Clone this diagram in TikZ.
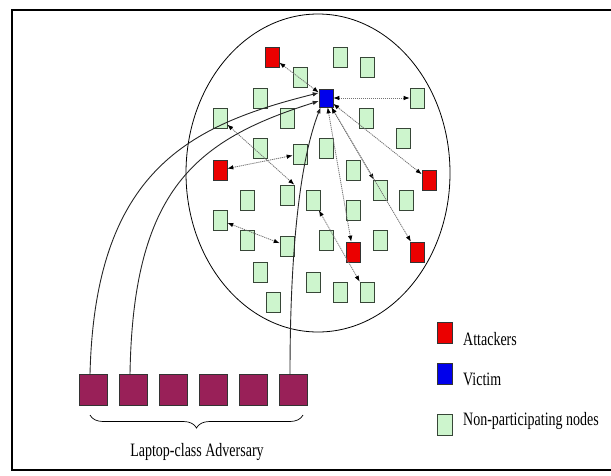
\documentclass[tikz,border=0pt]{standalone}
\usepackage{fontspec}
\setmainfont{Liberation Serif}
\usepackage{graphicx}
\usetikzlibrary{positioning,arrows.meta,decorations.pathreplacing}

\definecolor{plainGreen}{RGB}{205,245,205}
\definecolor{plainEdge}{RGB}{55,70,55}
\definecolor{attackRed}{RGB}{235,0,0}
\definecolor{victimBlue}{RGB}{0,0,235}
\definecolor{laptopPurple}{RGB}{153,32,88}
\newcommand{\tallText}[1]{\scalebox{1}[1.35]{#1}}

\begin{document}
\begin{tikzpicture}[x=1pt,y=-1pt,
  plainNode/.style={draw=plainEdge,fill=plainGreen,minimum width=14pt,
    minimum height=20pt,inner sep=0pt,line width=0.6pt},
  attacker/.style={plainNode,draw=black!80,fill=attackRed},
  victimBox/.style={plainNode,draw=black!80,fill=victimBlue,minimum height=18pt},
  laptop/.style={draw=black!80,fill=laptopPurple,minimum width=28pt,
    minimum height=31pt,inner sep=0pt,line width=0.6pt},
  probe/.style={gray!90!black,dash pattern=on 1.2pt off 0.8pt,line width=0.8pt,
    {Latex[color=black,length=6pt,width=4.5pt]}-{Latex[color=black,length=6pt,width=4.5pt]}},
  link/.style={black!85,line width=0.9pt,-{Latex[length=6pt,width=4.5pt]}},
  legendText/.style={font=\fontsize{14}{16}\selectfont,inner sep=0pt}]
  \useasboundingbox (0,0) rectangle (611,475);
  % frame, open on the right
  \draw[line width=1.6pt] (611,10) -- (12,10) -- (12,470) -- (611,470);
  % the network
  \draw[line width=0.8pt] (318,173) ellipse [x radius=132, y radius=159];
  \node[victimBox] (victim) at (326,98) {};
  \node[attacker] (attackerA) at (272,57) {};
  \node[attacker] (attackerB) at (220,170) {};
  \node[attacker] (attackerC) at (429,180) {};
  \node[attacker] (attackerD) at (353,252) {};
  \node[attacker] (attackerE) at (417,252) {};
  \node[plainNode] (plain1) at (340,57) {};
  \node[plainNode] (plain2) at (367,67) {};
  \node[plainNode] (plain3) at (300,77) {};
  \node[plainNode] (plain4) at (260,98) {};
  \node[plainNode] (plain5) at (417,98) {};
  \node[plainNode] (plain6) at (220,118) {};
  \node[plainNode] (plain7) at (287,118) {};
  \node[plainNode] (plain8) at (366,118) {};
  \node[plainNode] (plain9) at (403,138) {};
  \node[plainNode] (plain10) at (260,148) {};
  \node[plainNode] (plain11) at (326,148) {};
  \node[plainNode] (plain12) at (300,154) {};
  \node[plainNode] (plain13) at (353,170) {};
  \node[plainNode] (plain14) at (380,190) {};
  \node[plainNode] (plain15) at (247,200) {};
  \node[plainNode] (plain16) at (287,195) {};
  \node[plainNode] (plain17) at (313,200) {};
  \node[plainNode] (plain18) at (406,200) {};
  \node[plainNode] (plain19) at (353,210) {};
  \node[plainNode] (plain20) at (220,220) {};
  \node[plainNode] (plain21) at (247,240) {};
  \node[plainNode] (plain22) at (287,246) {};
  \node[plainNode] (plain23) at (326,240) {};
  \node[plainNode] (plain24) at (380,240) {};
  \node[plainNode] (plain25) at (260,272) {};
  \node[plainNode] (plain26) at (313,282) {};
  \node[plainNode] (plain27) at (340,292) {};
  \node[plainNode] (plain28) at (367,292) {};
  \node[plainNode] (plain29) at (273,302) {};
  \draw[probe] (attackerA) -- (victim);
  \draw[probe] (victim) -- (plain5);
  \draw[probe] (victim) -- (attackerC);
  \draw[probe] (victim) -- (plain14);
  \draw[probe] (victim) -- (attackerE);
  \draw[probe] (victim) -- (attackerD);
  \draw[probe] (plain6) -- (plain16.north east);
  \draw[probe] (attackerB) -- (plain12);
  \draw[probe] (plain20) -- (plain22);
  \draw[probe] (plain17) -- (plain28.north west);
  % the adversary
  \node[laptop] (laptopA) at (93,390) {};
  \node[laptop] (laptopB) at (133,390) {};
  \node[laptop] (laptopC) at (173,390) {};
  \node[laptop] (laptopD) at (213,390) {};
  \node[laptop] (laptopE) at (253,390) {};
  \node[laptop] (laptopF) at (293,390) {};
  \draw[link] ([xshift=-3pt]laptopA.north) .. controls (95,170) and (190,125) .. (victim.145);
  \draw[link] ([xshift=-3pt]laptopB.north) .. controls (133,190) and (195,140) .. (victim.203);
  \draw[link] ([xshift=-3pt]laptopF.north) .. controls (290,250) and (300,160) .. (victim.240);
  \coordinate (braceLeft) at (90,415);
  \coordinate (braceRight) at (303,415);
  \draw[decorate,decoration={brace,mirror,amplitude=13pt},line width=0.7pt]
    (braceLeft) -- (braceRight);
  \node[legendText] (adversaryName) at (197,452) {\tallText{Laptop-class Adversary}};
  % legend
  \node[attacker,minimum width=15pt,minimum height=21pt] (keyAttacker) at (445,333) {};
  \node[victimBox,minimum width=15pt,minimum height=21pt] (keyVictim) at (445,374) {};
  \node[plainNode,minimum width=15pt,minimum height=21pt] (keyPlain) at (445,425) {};
  \node[legendText,anchor=west] (keyAttackerText) at (463,339) {\tallText{Attackers}};
  \node[legendText,anchor=west] (keyVictimText) at (463,379) {\tallText{Victim}};
  \node[legendText,anchor=west] (keyPlainText) at (463,421) {\tallText{Non-participating nodes}};
\end{tikzpicture}
\end{document}
